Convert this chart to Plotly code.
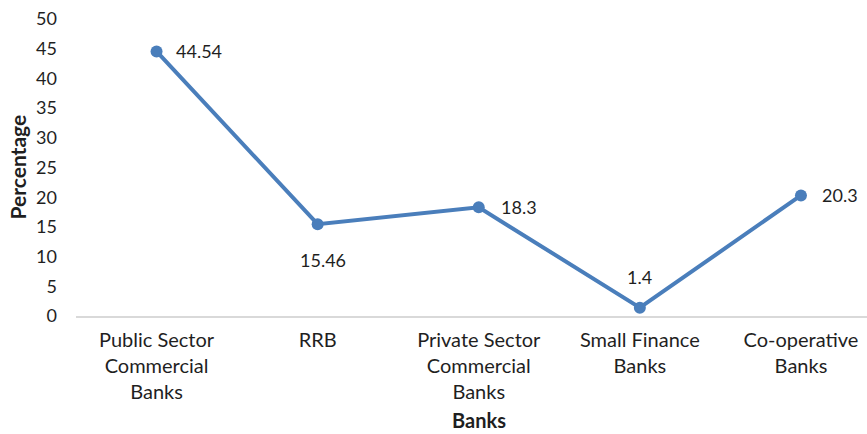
import plotly.graph_objects as go

# Share of accounts by bank group (%)
categories = [
    "Public Sector<br>Commercial<br>Banks",
    "RRB",
    "Private Sector<br>Commercial<br>Banks",
    "Small Finance<br>Banks",
    "Co-operative<br>Banks",
]
values = [44.54, 15.46, 18.3, 1.4, 20.3]
value_labels = ["44.54", "15.46", "18.3", "1.4", "20.3"]
y_ticks = [0, 5, 10, 15, 20, 25, 30, 35, 40, 45, 50]

# where each value label sits relative to its point: (xanchor, xshift, yshift)
label_place = [
    ("left", 17, 0),
    ("center", 5, -36),
    ("left", 20, 0),
    ("center", 0, 31),
    ("left", 19, 0),
]

FONT = "Lato"
TEXT = "#1f1f1f"
LINE = "#4a7ebb"

xi = list(range(len(categories)))

fig = go.Figure()
fig.add_trace(go.Scatter(
    x=xi,
    y=values,
    mode="lines+markers",
    line=dict(color=LINE, width=4),
    marker=dict(color=LINE, size=12),
    hoverinfo="skip",
    showlegend=False,
))

annotations = []
for i, (v, lab) in enumerate(zip(values, value_labels)):
    anchor, dx, dy = label_place[i]
    annotations.append(dict(
        x=i, y=v, xref="x", yref="y", text=lab, showarrow=False,
        xanchor=anchor, yanchor="middle", xshift=dx, yshift=dy,
        font=dict(family=FONT, size=18, color=TEXT),
    ))

# axis titles
annotations.append(dict(
    x=2, y=0, xref="x", yref="paper", text="<b>Banks</b>", showarrow=False,
    xanchor="center", yanchor="middle", yshift=-104,
    font=dict(family=FONT, size=20, color=TEXT),
))
annotations.append(dict(
    x=0, y=0.5, xref="paper", yref="paper", text="<b>Percentage</b>",
    showarrow=False, textangle=-90, xanchor="center", yanchor="middle",
    xshift=-59, font=dict(family=FONT, size=21, color=TEXT),
))

fig.update_layout(
    width=867,
    height=434,
    margin=dict(l=76, r=0, t=19, b=118),
    paper_bgcolor="white",
    plot_bgcolor="white",
    font=dict(family=FONT, size=18, color=TEXT),
    annotations=annotations,
    xaxis=dict(
        range=[-0.5, 4.41],
        tickmode="array",
        tickvals=xi,
        ticktext=categories,
        showgrid=False,
        zeroline=False,
        showline=True,
        linecolor="#d9d9d9",
        linewidth=2,
        ticks="",
        tickfont=dict(family=FONT, size=20, color=TEXT),
        ticklabelstandoff=5,
    ),
    yaxis=dict(
        range=[0, 50],
        tickmode="array",
        tickvals=y_ticks,
        showgrid=False,
        zeroline=False,
        showline=False,
        ticks="",
        tickfont=dict(family=FONT, size=18, color=TEXT),
        ticklabelstandoff=18,
    ),
)

fig.write_html("out.html")
